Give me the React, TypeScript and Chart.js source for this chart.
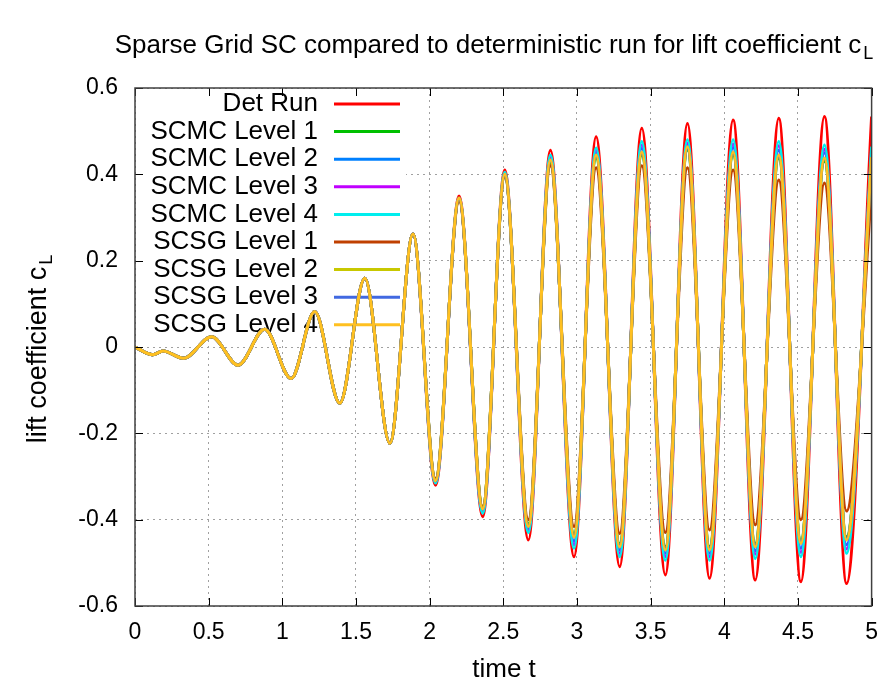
import React, { useEffect, useRef } from 'react';
import { Chart, registerables } from 'chart.js';

Chart.register(...registerables);

// Times of the extrema (time t)
const times = [
  0, 0.12, 0.19, 0.33, 0.52, 0.7, 0.88, 1.06, 1.22, 1.39, 1.56, 1.73, 1.887,
  2.04, 2.2, 2.36, 2.51, 2.67, 2.82, 2.98, 3.13, 3.29, 3.44, 3.6, 3.75, 3.9,
  4.06, 4.21, 4.37, 4.52, 4.68, 4.83, 5.0,
];

// Early part (t <= 1.887) where all runs coincide
const earlyShared = [0, -0.018, -0.009, -0.026, 0.024, -0.042, 0.041, -0.073, 0.082, -0.13, 0.159, -0.223, 0.262];

// Later extrema (t = 2.04 ... 5.0) per series
const detRunLate = [-0.32, 0.35, -0.393, 0.41, -0.447, 0.456, -0.486, 0.487, -0.509, 0.507, -0.528, 0.518, -0.536, 0.526, -0.54, 0.53, -0.544, 0.534, -0.548, 0.534];
const scmc1Late = [-0.306, 0.341, -0.37, 0.395, -0.41, 0.427, -0.434, 0.438, -0.456, 0.445, -0.463, 0.457, -0.463, 0.445, -0.456, 0.438, -0.448, 0.431, -0.44, 0.433];
const scmc2Late = [-0.312, 0.342, -0.38, 0.398, -0.42, 0.436, -0.45, 0.45, -0.47, 0.46, -0.478, 0.466, -0.478, 0.462, -0.472, 0.456, -0.466, 0.45, -0.458, 0.446];
const scmc3Late = [-0.313, 0.343, -0.382, 0.4, -0.425, 0.44, -0.458, 0.455, -0.478, 0.468, -0.486, 0.472, -0.486, 0.47, -0.48, 0.466, -0.476, 0.458, -0.468, 0.454];
const scmc4Late = [-0.315, 0.345, -0.385, 0.405, -0.43, 0.445, -0.466, 0.461, -0.486, 0.476, -0.494, 0.48, -0.494, 0.48, -0.49, 0.476, -0.486, 0.468, -0.478, 0.464];
const scsg1Late = [-0.305, 0.338, -0.37, 0.395, -0.4, 0.42, -0.416, 0.415, -0.432, 0.42, -0.43, 0.415, -0.424, 0.41, -0.412, 0.387, -0.4, 0.38, -0.38, 0.364];
const scsg2Late = [-0.308, 0.343, -0.372, 0.398, -0.413, 0.43, -0.437, 0.442, -0.46, 0.449, -0.467, 0.461, -0.467, 0.449, -0.46, 0.442, -0.452, 0.435, -0.444, 0.437];
const scsg3Late = [-0.31, 0.344, -0.375, 0.4, -0.415, 0.432, -0.438, 0.444, -0.46, 0.45, -0.467, 0.46, -0.467, 0.45, -0.46, 0.442, -0.452, 0.436, -0.444, 0.438];
const scsg4Late = [-0.31, 0.345, -0.375, 0.4, -0.416, 0.433, -0.44, 0.445, -0.463, 0.452, -0.47, 0.464, -0.47, 0.452, -0.463, 0.445, -0.455, 0.438, -0.447, 0.44];

const seriesLabels = [
  'Det Run', 'SCMC Level 1', 'SCMC Level 2', 'SCMC Level 3', 'SCMC Level 4',
  'SCSG Level 1', 'SCSG Level 2', 'SCSG Level 3', 'SCSG Level 4',
];
const seriesLate = [detRunLate, scmc1Late, scmc2Late, scmc3Late, scmc4Late, scsg1Late, scsg2Late, scsg3Late, scsg4Late];
const seriesColors = ['#ff0000', '#00c000', '#0080ff', '#c000ff', '#00eeee', '#c04000', '#c8c800', '#4169e1', '#ffc020'];

const xTicks = [0, 0.5, 1, 1.5, 2, 2.5, 3, 3.5, 4, 4.5, 5];
const yTicks = [-0.6, -0.4, -0.2, 0, 0.2, 0.4, 0.6];

const titleText = 'Sparse Grid SC compared to deterministic run for lift coefficient c';
const yLabelText = 'lift coefficient c';
const xLabelText = 'time t';
const subText = 'L';

const FONT = '"Liberation Sans", Arial, Helvetica, sans-serif';

const chromePlugin = {
  id: 'chrome',
  beforeDatasetsDraw(chart: any) {
    const { ctx, chartArea: a } = chart;
    ctx.save();
    // opaque key box
    ctx.fillStyle = '#ffffff';
    ctx.fillRect(a.left + 1, a.top + 1, 405 - a.left, 338 - a.top);
    // legend
    ctx.font = `26px ${FONT}`;
    ctx.textAlign = 'right';
    ctx.textBaseline = 'middle';
    chart.data.datasets.forEach((ds: any, i: number) => {
      const y = a.top + 16 + i * 27.6;
      ctx.fillStyle = '#000';
      ctx.fillText(ds.label, 318, y);
      ctx.strokeStyle = ds.borderColor;
      ctx.lineWidth = 3;
      ctx.beginPath();
      ctx.moveTo(334, y);
      ctx.lineTo(400, y);
      ctx.stroke();
    });
    ctx.restore();
  },
  afterDatasetsDraw(chart: any) {
    const { ctx, chartArea: a, scales } = chart;
    ctx.save();
    ctx.strokeStyle = '#000';
    ctx.lineWidth = 1;
    const tl = 8;
    ctx.beginPath();
    xTicks.forEach((v) => {
      const x = Math.round(scales.x.getPixelForValue(v)) + 0.5;
      ctx.moveTo(x, a.bottom); ctx.lineTo(x, a.bottom - tl);
      ctx.moveTo(x, a.top); ctx.lineTo(x, a.top + tl);
    });
    yTicks.forEach((v) => {
      const y = Math.round(scales.y.getPixelForValue(v)) + 0.5;
      ctx.moveTo(a.left, y); ctx.lineTo(a.left + tl, y);
      ctx.moveTo(a.right, y); ctx.lineTo(a.right - tl, y);
    });
    ctx.stroke();
    ctx.strokeStyle = '#404040';
    ctx.lineWidth = 1.5;
    ctx.strokeRect(a.left, a.top, a.right - a.left, a.bottom - a.top);
    ctx.restore();
  },
  afterDraw(chart: any) {
    const { ctx } = chart;
    ctx.save();
    ctx.fillStyle = '#000';
    ctx.textBaseline = 'alphabetic';
    // title
    ctx.font = `26px ${FONT}`;
    const tw = ctx.measureText(titleText).width;
    ctx.font = `18px ${FONT}`;
    const sw = ctx.measureText(subText).width;
    const tx = 494 - (tw + sw + 2) / 2;
    ctx.font = `26px ${FONT}`;
    ctx.textAlign = 'left';
    ctx.fillText(titleText, tx, 53);
    ctx.font = `18px ${FONT}`;
    ctx.fillText(subText, tx + tw + 2, 59);
    // x label
    ctx.font = `26px ${FONT}`;
    ctx.textAlign = 'center';
    ctx.fillText(xLabelText, 504, 677);
    // y label
    ctx.translate(46, 0);
    ctx.rotate(-Math.PI / 2);
    ctx.font = `27px ${FONT}`;
    const yw = ctx.measureText(yLabelText).width;
    ctx.font = `18px ${FONT}`;
    const ysw = ctx.measureText(subText).width;
    const startY = 349 - (yw + ysw + 2) / 2;
    ctx.textAlign = 'left';
    ctx.font = `27px ${FONT}`;
    ctx.fillText(yLabelText, -(startY + yw + ysw + 2), 0);
    ctx.font = `18px ${FONT}`;
    ctx.fillText(subText, -(startY + ysw), 6);
    ctx.restore();
  },
};

export default function App() {
  const ref = useRef<HTMLCanvasElement | null>(null);
  useEffect(() => {
    document.body.style.margin = '0';
    const canvas = ref.current!;
    const n = seriesLabels.length;
    const datasets = seriesLabels.map((label, i) => ({
      label,
      data: times.map((t, j) => ({ x: t, y: j < earlyShared.length ? earlyShared[j] : seriesLate[i][j - earlyShared.length] })),
      borderColor: seriesColors[i],
      backgroundColor: seriesColors[i],
      borderWidth: 3,
      pointRadius: 0,
      order: n - i,
      cubicInterpolationMode: 'monotone' as const,
      fill: false,
    }));
    const chart = new Chart(canvas, {
      type: 'line',
      data: { datasets },
      options: {
        animation: false,
        responsive: false,
        maintainAspectRatio: false,
        layout: { padding: { top: 88, right: 14, left: 0, bottom: 0 } },
        plugins: { legend: { display: false }, title: { display: false }, tooltip: { enabled: false } },
        scales: {
          x: {
            type: 'linear',
            min: 0,
            max: 5,
            afterFit: (s: any) => { s.height = 76; },
            afterBuildTicks: (s: any) => { s.ticks = xTicks.map((v) => ({ value: v })); },
            ticks: { font: { family: FONT, size: 23 }, color: '#000', padding: 13, maxRotation: 0, autoSkip: false,
              callback: (v: any) => String(Number(Number(v).toFixed(1))) },
            grid: { color: '#a0a0a0', lineWidth: 1, drawTicks: false },
            border: { display: false, dash: [2, 4] },
          },
          y: {
            type: 'linear',
            min: -0.6,
            max: 0.6,
            afterFit: (s: any) => { s.width = 135; },
            afterBuildTicks: (s: any) => { s.ticks = yTicks.map((v) => ({ value: v })); },
            ticks: { font: { family: FONT, size: 23 }, color: '#000', padding: 17, autoSkip: false,
              callback: (v: any) => String(Number(Number(v).toFixed(1))) },
            grid: { color: '#a0a0a0', lineWidth: 1, drawTicks: false },
            border: { display: false, dash: [2, 4] },
          },
        },
      },
      plugins: [chromePlugin],
    });
    return () => chart.destroy();
  }, []);
  return (
    <div style={{ position: 'fixed', left: 0, top: 0, width: 891, height: 682, background: '#fff' }}>
      <canvas ref={ref} width={891} height={682} style={{ width: 891, height: 682, display: 'block' }} />
    </div>
  );
}
